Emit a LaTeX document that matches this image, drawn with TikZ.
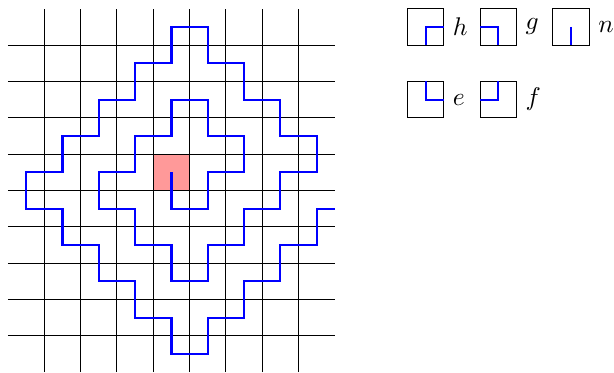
\documentclass[tikz,border=0pt]{standalone}
\usepackage{tikz}
\usetikzlibrary{positioning}
\begin{document}
\begin{tikzpicture}[x=5mm, y=5mm, node distance=5mm,
      tile/.style={draw, minimum size=5mm, inner sep=0pt, outer sep=0pt},
      walk/.style={blue, thick, line join=miter}]
    \useasboundingbox (-0.22,0) rectangle (16.68,10.24);
    \filldraw[fill=red!40] (4,5) rectangle (5,6);
    \foreach \i in {1,...,9} \draw (0,\i) -- (9,\i);
    \foreach \i in {1,...,8} \draw (\i,0) -- (\i,10);
    \draw[walk] (4.5,5.5) -- (4.5,4.5) -- (5.5,4.5) -- (5.5,5.5) -- (6.5,5.5) -- (6.5,6.5)
      -- (5.5,6.5) -- (5.5,7.5) -- (4.5,7.5) -- (4.5,6.5) -- (3.5,6.5) -- (3.5,5.5)
      -- (2.5,5.5) -- (2.5,4.5) -- (3.5,4.5) -- (3.5,3.5) -- (4.5,3.5) -- (4.5,2.5)
      -- (5.5,2.5) -- (5.5,3.5) -- (6.5,3.5) -- (6.5,4.5) -- (7.5,4.5) -- (7.5,5.5)
      -- (8.5,5.5) -- (8.5,6.5) -- (7.5,6.5) -- (7.5,7.5) -- (6.5,7.5) -- (6.5,8.5)
      -- (5.5,8.5) -- (5.5,9.5) -- (4.5,9.5) -- (4.5,8.5) -- (3.5,8.5) -- (3.5,7.5)
      -- (2.5,7.5) -- (2.5,6.5) -- (1.5,6.5) -- (1.5,5.5) -- (0.5,5.5) -- (0.5,4.5)
      -- (1.5,4.5) -- (1.5,3.5) -- (2.5,3.5) -- (2.5,2.5) -- (3.5,2.5) -- (3.5,1.5)
      -- (4.5,1.5) -- (4.5,0.5) -- (5.5,0.5) -- (5.5,1.5) -- (6.5,1.5) -- (6.5,2.5)
      -- (7.5,2.5) -- (7.5,3.5) -- (8.5,3.5) -- (8.5,4.5) -- (9,4.5);
    \node[tile] (th) at (11.5,9.5) {};
    \node[right=0mm of th] (lh) {$h$};
    \node[tile, right=of th] (tg) {};
    \node[right=0mm of tg] (lg) {$g$};
    \node[tile, right=of tg] (tn) {};
    \node[right=0mm of tn] (ln) {$n$};
    \node[tile] (te) at (11.5,7.5) {};
    \node[right=0mm of te] (le) {$e$};
    \node[tile, right=of te] (tf) {};
    \node[right=0mm of tf] (lf) {$f$};
    \draw[walk] (th.south) -- (th.center) -- (th.east);
    \draw[walk] (tg.west) -- (tg.center) -- (tg.south);
    \draw[walk] (tn.center) -- (tn.south);
    \draw[walk] (te.north) -- (te.center) -- (te.east);
    \draw[walk] (tf.west) -- (tf.center) -- (tf.north);
  \end{tikzpicture}
\end{document}
